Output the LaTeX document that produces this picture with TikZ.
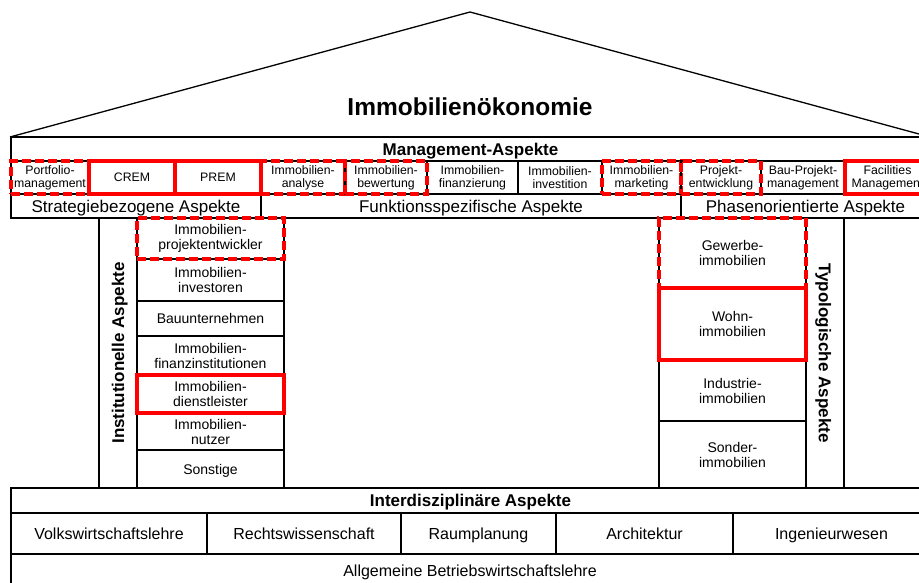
\documentclass[tikz,border=0pt]{standalone}
\usepackage{fontspec}
\setmainfont{Liberation Sans}
\usetikzlibrary{fit}

\begin{document}
\begin{tikzpicture}[x=1pt, y=-1pt,
  cell/.style={draw=black, line width=1.3pt, inner sep=0pt, align=center, text=black},
  % single-line labels sit on their baseline, shifted down by half the cap height
  big/.style={anchor=base, inner sep=0pt, font=\bfseries\fontsize{24.5}{27}\selectfont},
  headtext/.style={anchor=base, inner sep=0pt, yshift=-6.1pt, font=\bfseries\fontsize{17}{19}\selectfont},
  aspecttext/.style={anchor=base, inner sep=0pt, yshift=-6.1pt, font=\fontsize{17}{19}\selectfont},
  disctext/.style={anchor=base, inner sep=0pt, yshift=-5.7pt, font=\fontsize{16}{18}\selectfont},
  vlabel/.style={anchor=base, inner sep=0pt, font=\bfseries\fontsize{17}{19}\selectfont},
  mgmttext/.style={align=center, inner sep=0pt, font=\fontsize{12.3}{13}\selectfont},
  mgmtone/.style={anchor=base, inner sep=0pt, yshift=-4.4pt, font=\fontsize{12.3}{13}\selectfont},
  piltext/.style={align=center, inner sep=0pt, font=\fontsize{14}{15}\selectfont},
  pilone/.style={anchor=base, inner sep=0pt, yshift=-5pt, font=\fontsize{14}{15}\selectfont},
  redsolid/.style={draw=red, line width=3.2pt},
  reddash/.style={draw=black, line width=1.3pt,
    postaction={draw=red, line width=3.2pt, dash pattern=on 9pt off 4pt}},
  roof/.style={draw=black, line width=1.3pt, line join=miter},
]
\useasboundingbox (0,0) rectangle (919,583);
\clip (0,0) rectangle (919,583);

% --- roof ---
\coordinate (roofL) at (10,137);
\coordinate (apex) at (470,12);
\coordinate (roofR) at (930,137);
\draw[roof] (roofL) -- (apex) -- (roofR);
\node[big] (title) at (470,115.8) {Immobilienökonomie};

% --- management block ---
\node[cell, fit={(11,137) (930,161)}] (mhead) {};
\node[headtext] at (mhead.center) {Management-Aspekte};

\node[cell, fit={(11,194) (261,218)}] (strat) {};
\node[cell, fit={(261,194) (681,218)}] (funk) {};
\node[cell, fit={(681,194) (930,218)}] (phase) {};
\node[aspecttext] at (strat.center) {Strategiebezogene Aspekte};
\node[aspecttext] at (funk.center) {Funktionsspezifische Aspekte};
\node[aspecttext] at (phase.center) {Phasenorientierte Aspekte};

% plain cells
\node[cell, fit={(427,161) (518,194)}] (fin) {};
\node[cell, fit={(518,161) (602,194)}] (inv) {};
\node[cell, fit={(761,161) (845,194)}] (bpm) {};
% dashed red cells
\node[cell, reddash, fit={(11,161) (89,194)}] (port) {};
\node[cell, reddash, fit={(261,161) (345,194)}] (ana) {};
\node[cell, reddash, fit={(345,161) (427,194)}] (bew) {};
\node[cell, reddash, fit={(602,161) (681,194)}] (mark) {};
\node[cell, reddash, fit={(681,161) (761,194)}] (pe) {};
% solid red cells
\node[cell, redsolid, fit={(89,161) (175,194)}] (crem) {};
\node[cell, redsolid, fit={(175,161) (261,194)}] (prem) {};
\node[cell, redsolid, fit={(845,161) (930,194)}] (fm) {};

\node[mgmttext] at (port.center) {Portfolio-\\management};
\node[mgmtone] at (crem.center) {CREM};
\node[mgmtone] at (prem.center) {PREM};
\node[mgmttext] at (ana.center) {Immobilien-\\analyse};
\node[mgmttext] at (bew.center) {Immobilien-\\bewertung};
\node[mgmttext] at (fin.center) {Immobilien-\\finanzierung};
\node[mgmttext] at (inv.center) {Immobilien-\\investition};
\node[mgmttext] at (mark.center) {Immobilien-\\marketing};
\node[mgmttext] at (pe.center) {Projekt-\\entwicklung};
\node[mgmttext] at (bpm.center) {Bau-Projekt-\\management};
\node[mgmttext] at (fm.center) {Facilities\\Management};

% --- left pillar ---
\node[cell, fit={(99,218) (137,488)}] (inst) {};
\node[vlabel, rotate=90] at (124.1,353) {Institutionelle Aspekte};
\node[cell, fit={(137,259) (284,301)}] (pinv) {};
\node[cell, fit={(137,301) (284,336)}] (pbau) {};
\node[cell, fit={(137,336) (284,375)}] (pfin) {};
\node[cell, fit={(137,413) (284,450)}] (pnutz) {};
\node[cell, fit={(137,450) (284,488)}] (psonst) {};
\node[cell, reddash, fit={(137,218) (284,259)}] (pproj) {};
\node[cell, redsolid, fit={(137,375) (284,413)}] (pdienst) {};

% --- right pillar ---
\node[cell, fit={(806,218) (844,488)}] (typ) {};
\node[vlabel, rotate=-90] at (818.9,353) {Typologische Aspekte};
\node[cell, fit={(659,360) (806,421)}] (tind) {};
\node[cell, fit={(659,421) (806,488)}] (tsond) {};
\node[cell, reddash, fit={(659,218) (806,288)}] (tgew) {};
\node[cell, redsolid, fit={(659,288) (806,360)}] (twohn) {};

\node[piltext] at (pproj.center) {Immobilien-\\projektentwickler};
\node[piltext] at (pinv.center) {Immobilien-\\investoren};
\node[pilone] at (pbau.center) {Bauunternehmen};
\node[piltext] at (pfin.center) {Immobilien-\\finanzinstitutionen};
\node[piltext] at (pdienst.center) {Immobilien-\\dienstleister};
\node[piltext] at (pnutz.center) {Immobilien-\\nutzer};
\node[pilone] at (psonst.center) {Sonstige};
\node[piltext] at (tgew.center) {Gewerbe-\\immobilien};
\node[piltext] at (twohn.center) {Wohn-\\immobilien};
\node[piltext] at (tind.center) {Industrie-\\immobilien};
\node[piltext] at (tsond.center) {Sonder-\\immobilien};

% --- foundation ---
\node[cell, fit={(11,488) (930,513)}] (ihead) {};
\node[headtext] at (ihead.center) {Interdisziplinäre Aspekte};
\node[cell, fit={(11,513) (207,554)}] (vwl) {};
\node[cell, fit={(207,513) (401,554)}] (rw) {};
\node[cell, fit={(401,513) (556,554)}] (rp) {};
\node[cell, fit={(556,513) (733,554)}] (arch) {};
\node[cell, fit={(733,513) (930,554)}] (ing) {};
\node[cell, fit={(11,554) (930,600)}] (abwl) {};

\node[disctext] at (vwl.center) {Volkswirtschaftslehre};
\node[disctext] at (rw.center) {Rechtswissenschaft};
\node[disctext] at (rp.center) {Raumplanung};
\node[disctext] at (arch.center) {Architektur};
\node[disctext] at (ing.center) {Ingenieurwesen};
\node[disctext] at (470,571) {Allgemeine Betriebswirtschaftslehre};
\end{tikzpicture}
\end{document}
